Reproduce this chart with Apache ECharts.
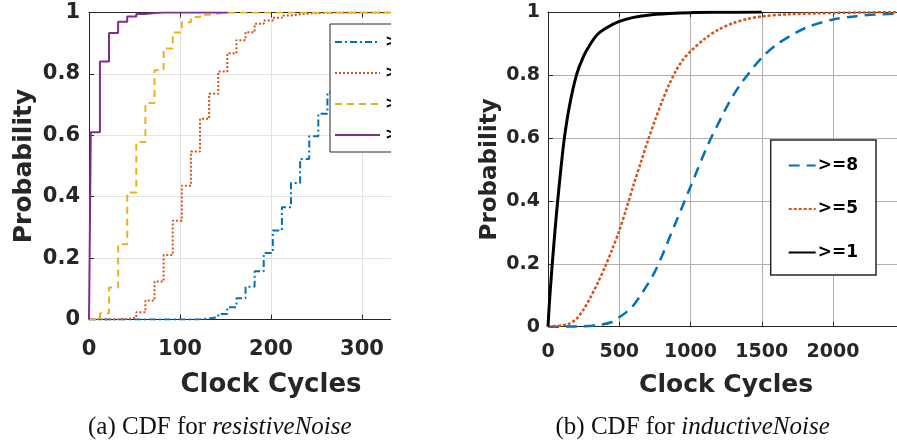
<!DOCTYPE html>
<html>
<head>
<meta charset="utf-8">
<script src="https://cdn.jsdelivr.net/npm/echarts@6/dist/echarts.min.js"></script>
<style>
html,body{margin:0;padding:0;width:897px;height:447px;overflow:hidden;background:#fff;}
#leftWrap{position:absolute;left:0;top:0;width:391px;height:447px;overflow:hidden;}
#rightWrap{position:absolute;left:391px;top:0;width:506px;height:447px;overflow:hidden;}
#leftChart{width:480px;height:447px;}
#rightChart{width:600px;height:447px;}
</style>
</head>
<body>
<div id="leftWrap"><div id="leftChart"></div></div>
<div id="rightWrap"><div id="rightChart"></div></div>
<script>
// ---------- Data: (a) resistiveNoise, step CDFs ----------
const leftNames = ['>=8', '>=5', '>=3', '>=1'];
const leftXTicks = [0, 100, 200, 300, 400];
const leftYTicks = [0, 0.2, 0.4, 0.6, 0.8, 1];
const leftEdges = [0, 2, 12, 22, 32, 42, 52, 62, 72, 82, 92, 102, 112, 122, 132, 142, 152, 162, 172, 182, 192, 202, 212, 222, 232, 242, 252, 262, 272, 282, 292, 302, 312, 322, 332, 342];
const leftP8 = [0, 0, 0, 0, 0, 0, 0, 0, 0, 0, 0, 0, 0.001, 0.003, 0.008, 0.018, 0.04, 0.069, 0.107, 0.157, 0.217, 0.29, 0.366, 0.445, 0.523, 0.597, 0.67, 0.74, 0.8, 0.845, 0.88, 0.905, 0.925, 0.94, 0.95, 0.958];
const leftP5 = [0, 0, 0, 0, 0.002, 0.006, 0.024, 0.062, 0.124, 0.21, 0.322, 0.436, 0.547, 0.654, 0.735, 0.808, 0.867, 0.91, 0.936, 0.963, 0.974, 0.983, 0.99, 0.994, 0.997, 0.998, 0.999, 1, 1, 1, 1, 1, 1, 1, 1, 1];
const leftP3 = [0, 0, 0.02, 0.104, 0.245, 0.414, 0.578, 0.705, 0.812, 0.883, 0.935, 0.968, 0.985, 0.993, 0.997, 0.999, 1, 1, 1, 1, 1, 1, 1, 1, 1, 1, 1, 1, 1, 1, 1, 1, 1, 1, 1, 1];
const leftP1 = [0, 0.61, 0.84, 0.933, 0.97, 0.987, 0.995, 0.998, 1, 1, 1, 1, 1, 1, 1, 1, 1];

// ---------- Data: (b) inductiveNoise, smooth CDFs ----------
const rightNames = ['>=8', '>=5', '>=1'];
const rightXTicks = [0, 500, 1000, 1500, 2000, 2500];
const rightYTicks = [0, 0.2, 0.4, 0.6, 0.8, 1];
const rightX8 = [0, 200, 350, 450, 500, 560, 600, 650, 700, 750, 800, 850, 900, 950, 1000, 1050, 1100, 1150, 1200, 1250, 1300, 1350, 1400, 1500, 1600, 1750, 1850, 2000, 2150, 2300, 2500];
const rightP8 = [0, 0.001, 0.005, 0.015, 0.03, 0.05, 0.068, 0.1, 0.135, 0.175, 0.225, 0.28, 0.335, 0.39, 0.445, 0.5, 0.555, 0.605, 0.65, 0.695, 0.735, 0.77, 0.8, 0.855, 0.895, 0.937, 0.957, 0.976, 0.986, 0.992, 0.996];
const rightX5 = [0, 100, 150, 200, 250, 300, 350, 400, 450, 500, 550, 600, 650, 700, 750, 800, 850, 900, 950, 1000, 1100, 1200, 1300, 1400, 1500, 1700, 2000, 2500];
const rightP5 = [0, 0.004, 0.01, 0.025, 0.055, 0.095, 0.14, 0.19, 0.245, 0.305, 0.375, 0.45, 0.52, 0.59, 0.655, 0.715, 0.77, 0.815, 0.85, 0.875, 0.915, 0.945, 0.965, 0.978, 0.986, 0.993, 0.997, 1];
const rightX1 = [0, 5, 12, 20, 30, 50, 68, 90, 115, 150, 200, 250, 300, 350, 412, 500, 600, 700, 850, 1000, 1200, 1500];
const rightP1 = [0, 0.04, 0.09, 0.14, 0.2, 0.31, 0.4, 0.5, 0.6, 0.7, 0.8, 0.86, 0.9, 0.93, 0.95, 0.97, 0.983, 0.99, 0.995, 0.998, 0.999, 1];

const pairs = (xs, ys) => ys.map((y, i) => [xs[i], y]);
const FONT = 'DejaVu Sans';
const AX = '#262626';

function valueAxis(min, max, interval, fontSize, margin, gridColor, name, nameGap, nameSize, showMax) {
  return {
    type: 'value', min: min, max: max, interval: interval,
    name: name, nameLocation: 'middle', nameGap: nameGap, nameMoveOverlap: false,
    nameTextStyle: {fontFamily: FONT, fontWeight: 'bold', fontSize: nameSize, color: AX},
    axisLine: {show: true, lineStyle: {color: AX, width: 1}},
    axisTick: {show: true, inside: true, length: 5, lineStyle: {color: AX}},
    axisLabel: {fontFamily: FONT, fontWeight: 'bold', fontSize: fontSize, color: AX, margin: margin,
      showMaxLabel: showMax, formatter: v => String(v)},
    splitLine: {show: true, lineStyle: {color: gridColor, width: 1}}
  };
}
function topAxis(min, max, interval) {
  return {
    type: 'value', position: 'top', min: min, max: max, interval: interval,
    axisLine: {show: true, lineStyle: {color: AX, width: 1}},
    axisTick: {show: true, inside: true, length: 5, lineStyle: {color: AX}},
    axisLabel: {show: false}, splitLine: {show: false}
  };
}
function caption(label, italic, left) {
  return {
    type: 'text', left: left, top: 415, z: 20,
    style: {
      text: '{n|' + label + '}{i|' + italic + '}',
      rich: {
        n: {fontFamily: 'Liberation Serif', fontSize: 25, fill: '#111'},
        i: {fontFamily: 'Liberation Serif', fontStyle: 'italic', fontSize: 25, fill: '#111'}
      }
    }
  };
}

// ---------------- Left chart ----------------
const leftChart = echarts.init(document.getElementById('leftChart'), null, {renderer: 'canvas'});
const leftColors = ['#0072BD', '#D95319', '#EDB120', '#7E2F8E'];
const leftDash = [[7, 3, 2, 3], [2, 2], [7, 5], 'solid'];
const leftData = [pairs(leftEdges, leftP8), pairs(leftEdges, leftP5), pairs(leftEdges, leftP3), pairs(leftEdges.slice(0, leftP1.length), leftP1)];
leftChart.setOption({
  animation: false,
  grid: {left: 89, top: 12.5, width: 364, height: 307, show: false},
  xAxis: [
    valueAxis(0, 400, 100, 21, 20, '#e3e3e3', 'Clock Cycles', 53, 26, false),
    topAxis(0, 400, 100)
  ],
  yAxis: valueAxis(0, 1, 0.2, 21, 9, '#e3e3e3', 'Probability', 52, 25, true),
  legend: {
    left: 330, top: 24, orient: 'vertical', z: 20,
    backgroundColor: '#fff', borderColor: AX, borderWidth: 1,
    padding: [10, 10, 9, 4], itemGap: 15, itemWidth: 45, itemHeight: 14,
    itemStyle: {opacity: 0},
    textStyle: {fontFamily: FONT, fontWeight: 'bold', fontSize: 16, color: '#000'},
    data: leftNames
  },
  series: leftNames.map((n, i) => ({
    name: n, type: 'line', step: 'end', symbol: 'none', showSymbol: false, data: leftData[i],
    lineStyle: {color: leftColors[i], width: 2, type: leftDash[i]},
    itemStyle: {color: leftColors[i]}
  })),
  graphic: [caption('(a) CDF for ', 'resistiveNoise', 88)]
});

// ---------------- Right chart ----------------
const rightChart = echarts.init(document.getElementById('rightChart'), null, {renderer: 'canvas'});
const rightColors = ['#0072BD', '#D95319', '#000000'];
const rightDash = [[11, 7], [3, 2], 'solid'];
const rightWidth = [2.5, 2.5, 3];
const rightData = [pairs(rightX8, rightP8), pairs(rightX5, rightP5), pairs(rightX1, rightP1)];
rightChart.setOption({
  animation: false,
  grid: {left: 157, top: 12, width: 356.25, height: 314.7, show: false},
  xAxis: [
    valueAxis(0, 2500, 500, 19, 16, '#b0b0b0', 'Clock Cycles', 46, 25, false),
    topAxis(0, 2500, 500)
  ],
  yAxis: valueAxis(0, 1, 0.2, 19, 8, '#b0b0b0', 'Probability', 46, 23, true),
  legend: {
    left: 379.7, top: 140, orient: 'vertical', z: 20,
    backgroundColor: '#fff', borderColor: AX, borderWidth: 1.5,
    padding: [17, 18, 14, 17], itemGap: 26.5, itemWidth: 27, itemHeight: 14,
    itemStyle: {opacity: 0},
    textStyle: {fontFamily: FONT, fontWeight: 'bold', fontSize: 17, color: '#000', padding: [0, 0, 0, -3]},
    data: rightNames
  },
  series: rightNames.map((n, i) => ({
    name: n, type: 'line', smooth: 0.3, symbol: 'none', showSymbol: false, data: rightData[i],
    lineStyle: {color: rightColors[i], width: rightWidth[i], type: rightDash[i]},
    itemStyle: {color: rightColors[i]}
  })),
  graphic: [caption('(b) CDF for ', 'inductiveNoise', 164.5)]
});
</script>
</body>
</html>
